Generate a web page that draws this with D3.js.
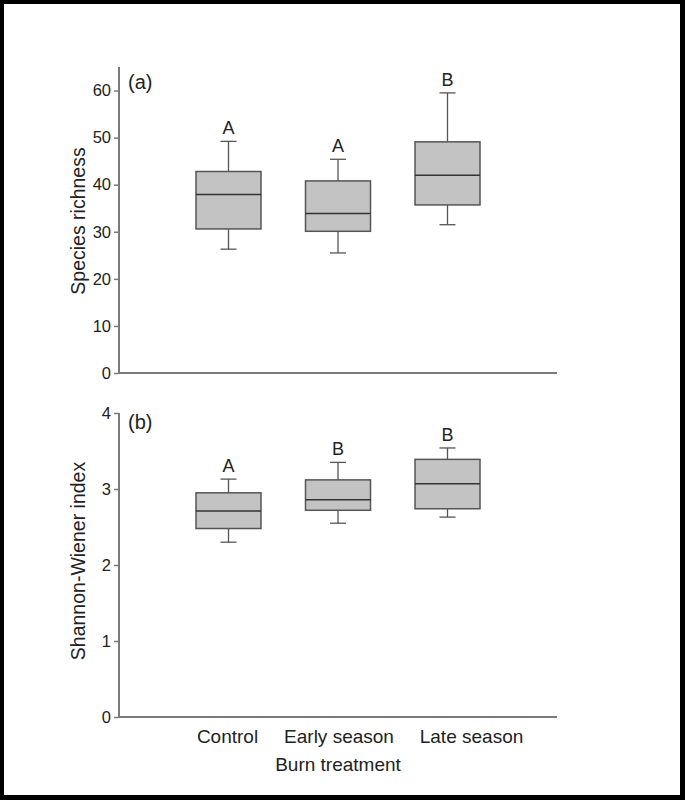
<!DOCTYPE html>
<html>
<head>
<meta charset="utf-8">
<script src="https://cdn.jsdelivr.net/npm/d3@7"></script>
<style>
  html, body { margin: 0; padding: 0; background: #000; }
  svg { display: block; }
  text { font-family: "Liberation Sans", Arial, sans-serif; fill: #222; }
</style>
</head>
<body>
<script>
const categories = ["Control", "Early season", "Late season"];

// Panel (a): Species richness [min, q1, median, q3, max]
const richnessStats = [
  [26.3, 30.6, 37.9, 42.8, 49.2],
  [25.5, 30.1, 33.9, 40.8, 45.4],
  [31.5, 35.7, 42.0, 49.1, 59.5]
];
const richnessLetters = ["A", "A", "B"];
const richnessTicks = [0, 10, 20, 30, 40, 50, 60];

// Panel (b): Shannon-Wiener index [min, q1, median, q3, max]
const shannonStats = [
  [2.30, 2.48, 2.71, 2.95, 3.13],
  [2.55, 2.72, 2.86, 3.12, 3.35],
  [2.63, 2.74, 3.07, 3.39, 3.54]
];
const shannonLetters = ["A", "B", "B"];
const shannonTicks = [0, 1, 2, 3, 4];

const W = 685, H = 800;
const svg = d3.select("body").append("svg").attr("width", W).attr("height", H);
svg.append("rect").attr("x", 0).attr("y", 0).attr("width", W).attr("height", H).attr("fill", "#000");
svg.append("rect").attr("x", 4).attr("y", 4).attr("width", 676).attr("height", 791).attr("fill", "#fff");

const axisX0 = 119, axisX1 = 557;
const x = d3.scalePoint().domain(categories).range([axisX0, axisX1]).padding(1);
const boxW = 65, capW = 16;
const axisColor = "#7a7a7a";

function panel(stats, letters, ticks, domain, yRange, tag, tagY, title, titleY) {
  const y = d3.scaleLinear().domain(domain).range(yRange);
  const g = svg.append("g");

  // y axis
  const yAxis = d3.axisLeft(y).tickValues(ticks).tickSize(5).tickPadding(3).tickFormat(d3.format("d"));
  const ga = g.append("g").attr("transform", `translate(${axisX0},0)`).call(yAxis);
  ga.select(".domain").attr("stroke", axisColor).attr("stroke-width", 2).attr("d", `M0,${y(domain[1])}V${y(0)}`);
  ga.selectAll(".tick line").attr("stroke", axisColor).attr("stroke-width", 1.5);
  ga.selectAll(".tick text").attr("font-size", 16.5).attr("fill", "#222")
    .attr("font-family", "Liberation Sans, Arial, sans-serif");

  // x axis line
  g.append("line").attr("x1", axisX0).attr("x2", axisX1)
    .attr("y1", y(0)).attr("y2", y(0)).attr("stroke", axisColor).attr("stroke-width", 2);

  const boxes = g.selectAll(".box").data(stats).enter().append("g");
  boxes.each(function(s, i) {
    const cx = x(categories[i]);
    const b = d3.select(this);
    // whiskers
    b.append("line").attr("x1", cx).attr("x2", cx).attr("y1", y(s[4])).attr("y2", y(s[3]))
      .attr("stroke", "#555").attr("stroke-width", 1.3);
    b.append("line").attr("x1", cx).attr("x2", cx).attr("y1", y(s[1])).attr("y2", y(s[0]))
      .attr("stroke", "#555").attr("stroke-width", 1.3);
    b.append("line").attr("x1", cx - capW / 2).attr("x2", cx + capW / 2).attr("y1", y(s[4])).attr("y2", y(s[4]))
      .attr("stroke", "#555").attr("stroke-width", 1.3);
    b.append("line").attr("x1", cx - capW / 2).attr("x2", cx + capW / 2).attr("y1", y(s[0])).attr("y2", y(s[0]))
      .attr("stroke", "#555").attr("stroke-width", 1.3);
    // box
    b.append("rect").attr("x", cx - boxW / 2).attr("width", boxW)
      .attr("y", y(s[3])).attr("height", y(s[1]) - y(s[3]))
      .attr("fill", "#c3c3c3").attr("stroke", "#555").attr("stroke-width", 1.5);
    // median
    b.append("line").attr("x1", cx - boxW / 2).attr("x2", cx + boxW / 2).attr("y1", y(s[2])).attr("y2", y(s[2]))
      .attr("stroke", "#333").attr("stroke-width", 1.5);
    // letter
    b.append("text").attr("x", cx).attr("y", y(s[4]) - 7).attr("text-anchor", "middle")
      .attr("font-size", 18).text(letters[i]);
  });

  // panel tag
  g.append("text").attr("x", 128).attr("y", tagY).attr("font-size", 20).text(tag);

  // y title
  g.append("text").attr("transform", `translate(85,${titleY}) rotate(-90)`)
    .attr("text-anchor", "middle").attr("font-size", 19.5).text(title);
  return y;
}

panel(richnessStats, richnessLetters, richnessTicks, [0, 65], [373, 67], "(a)", 89, "Species richness", 221);
panel(shannonStats, shannonLetters, shannonTicks, [0, 4], [717, 413], "(b)", 429, "Shannon-Wiener index", 561);

// category labels (the original places the last label slightly right of its box)
const labelShift = [-1, 1, 24];
svg.selectAll(".cat").data(categories).enter().append("text")
  .attr("x", (d, i) => x(d) + labelShift[i]).attr("y", 743).attr("text-anchor", "middle")
  .attr("font-size", 19).text(d => d);

svg.append("text").attr("x", 338).attr("y", 771).attr("text-anchor", "middle").attr("font-size", 19).text("Burn treatment");
</script>
</body>
</html>
